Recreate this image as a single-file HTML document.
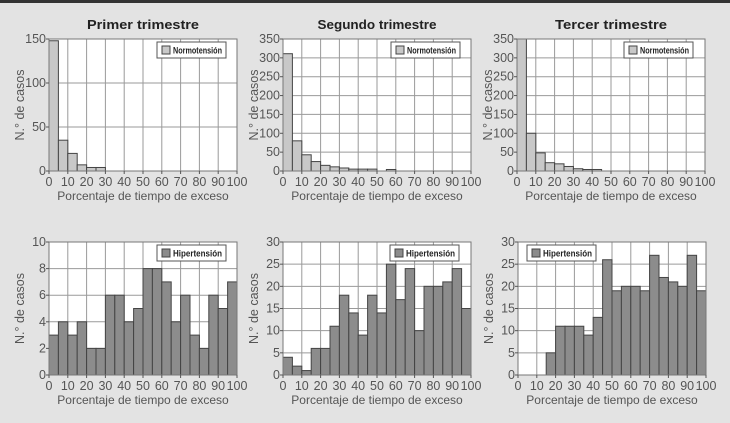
<!DOCTYPE html>
<html><head><meta charset="utf-8"><style>
html,body{margin:0;padding:0;background:#e3e3e3;}
svg{display:block;font-family:"Liberation Sans",sans-serif;}
</style></head><body>
<svg id="c" width="730" height="423">
<rect x="0" y="0" width="730" height="3" fill="#333"/>
</svg>
<script>
const bins = [0,5,10,15,20,25,30,35,40,45,50,55,60,65,70,75,80,85,90,95];
const normT1 = [148,35,20,7,4,4,0,0,0,0,0,0,0,0,0,0,0,0,0,0];
const normT2 = [311,80,43,25,15,11,8,5,5,5,0,4,0,0,0,0,0,0,0,0];
const normT3 = [350,100,48,22,19,12,6,4,4,0,0,0,0,0,0,0,0,0,0,0];
const hypT1 = [3,4,3,4,2,2,6,6,4,5,8,8,7,4,6,3,2,6,5,7];
const hypT2 = [4,2,1,6,6,11,18,14,9,18,14,25,17,24,10,20,20,21,24,15];
const hypT3 = [0,0,0,5,11,11,11,9,13,26,19,20,20,19,27,22,21,20,27,19];
const xTicks = [0,10,20,30,40,50,60,70,80,90,100];
const yTicks1 = [0,50,100,150];
const yTicks2 = [0,50,100,150,200,250,300,350];
const yTicks4 = [0,2,4,6,8,10];
const yTicks5 = [0,5,10,15,20,25,30];
const titles = ["Primer trimestre","Segundo trimestre","Tercer trimestre"];

const svg=document.getElementById('c');
const NS='http://www.w3.org/2000/svg';
function mk(t,a,p){const e=document.createElementNS(NS,t);for(const k in a)e.setAttribute(k,a[k]);(p||svg).appendChild(e);return e;}

function panel(id,x0,x1,y0,y1,ymax,yt,vals,fill,legend,legX,title){
  const g=mk('g',{});
  
  
  const sx=v=>x0+(x1-x0)*v/100, sy=v=>y1-(y1-y0)*Math.min(v,ymax)/ymax;
  mk('rect',{x:x0,y:y0,width:x1-x0,height:y1-y0,fill:'#fff'},g);
  for(const t of xTicks){mk('line',{x1:sx(t),x2:sx(t),y1:y0,y2:y1,stroke:'#9a9a9a','stroke-width':1},g);}
  for(const t of yt){mk('line',{x1:x0,x2:x1,y1:sy(t),y2:sy(t),stroke:'#9a9a9a','stroke-width':1},g);}
  vals.forEach((v,i)=>{ if(v<=0)return;
    const r=mk('rect',{x:sx(bins[i]),y:sy(v),width:sx(bins[i]+5)-sx(bins[i]),height:y1-sy(v),fill:fill,stroke:'#444','stroke-width':1},g);
    
    
  });
  mk('rect',{x:x0,y:y0,width:x1-x0,height:y1-y0,fill:'none',stroke:'#777','stroke-width':1},g);
  for(const t of xTicks){
    mk('line',{x1:sx(t),x2:sx(t),y1:y1,y2:y1+3,stroke:'#555'},g);
    const tx=mk('text',{x:sx(t),y:y1+15,'text-anchor':'middle','font-size':12.5,fill:'#555'},g);tx.textContent=t;
    
  }
  for(const t of yt){
    mk('line',{x1:x0-3,x2:x0,y1:sy(t),y2:sy(t),stroke:'#555'},g);
    const tx=mk('text',{x:x0-3,y:sy(t)+4,'text-anchor':'end','font-size':12.5,fill:'#555'},g);tx.textContent=t;
    
  }
  const xl=mk('text',{x:(x0+x1)/2,y:y1+29,'text-anchor':'middle','font-size':12,fill:'#555'},g);xl.textContent='Porcentaje de tiempo de exceso';
  
  const yc=(y0+y1)/2, ylx=x0-25;
  const yl=mk('text',{x:ylx,y:yc,'text-anchor':'middle','font-size':12.5,fill:'#555',transform:`rotate(-90 ${ylx} ${yc})`},g);yl.textContent='N.° de casos';
  
  if(title){const tt=mk('text',{x:(x0+x1)/2,y:y0-10,'text-anchor':'middle','font-size':13,'font-weight':'bold',fill:'#222',textLength:title.length*7,lengthAdjust:'spacingAndGlyphs'},g);tt.textContent=title;
    }
  const lg=mk('g',{},g);
  
  
  const ly=y0+3;
  mk('rect',{x:legX,y:ly,width:69,height:16,fill:'#fff',stroke:'#555'},lg);
  mk('rect',{x:legX+5,y:ly+4,width:8,height:8,fill:fill,stroke:'#444'},lg);
  const lt=mk('text',{x:legX+16,y:ly+11.5,'font-size':9,'font-weight':'bold',fill:'#222',textLength:49,lengthAdjust:'spacingAndGlyphs'},lg);lt.textContent=legend;
}
const nf='#c8c8c8', hf='#8c8c8c';
panel('normotension-t1',49,237,39,171,150,yTicks1,normT1,nf,'Normotensión',157,titles[0]);
panel('normotension-t2',283,471,39,171,350,yTicks2,normT2,nf,'Normotensión',391,titles[1]);
panel('normotension-t3',517,705,39,171,350,yTicks2,normT3,nf,'Normotensión',624,titles[2]);
panel('hipertension-t1',49,237,242,375,10,yTicks4,hypT1,hf,'Hipertensión',157,null);
panel('hipertension-t2',283,471,242,375,30,yTicks5,hypT2,hf,'Hipertensión',390,null);
panel('hipertension-t3',518,706,242,375,30,yTicks5,hypT3,hf,'Hipertensión',527,null);
</script>
</body></html>
